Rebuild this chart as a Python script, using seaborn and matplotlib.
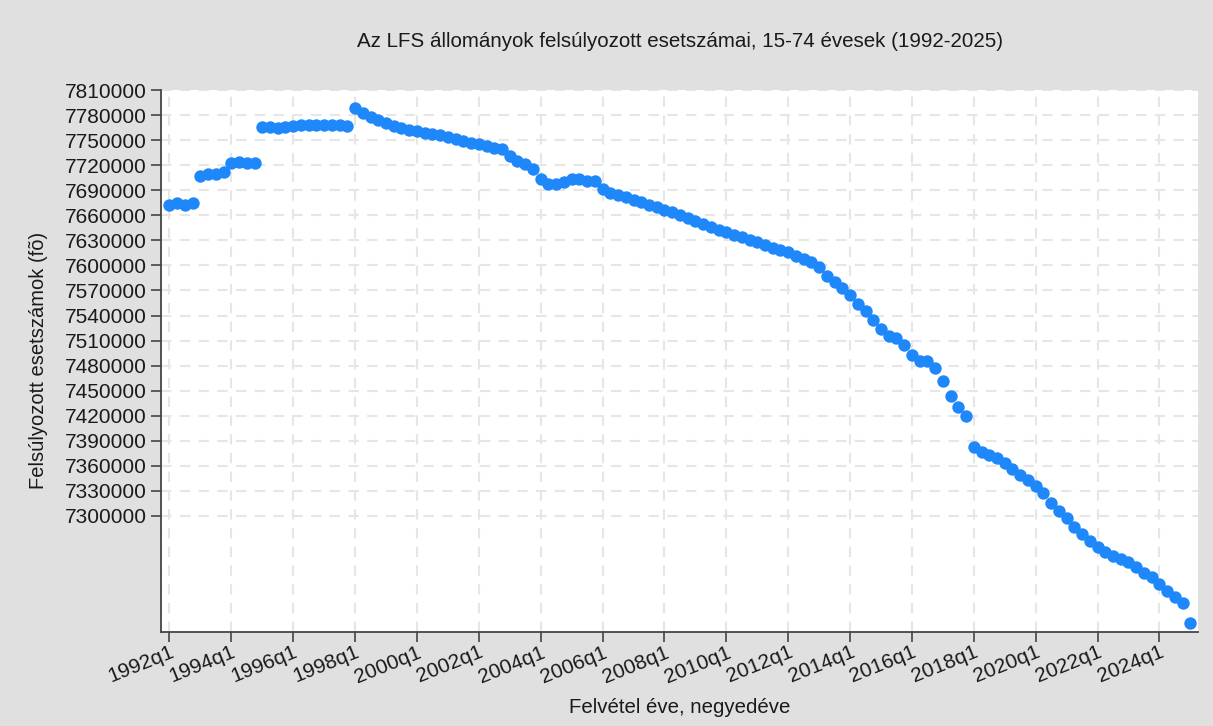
import numpy as np
import pandas as pd
import matplotlib
matplotlib.use("Agg")
import matplotlib.pyplot as plt
import seaborn as sns

# quarters 1992q1 .. 2025q1
years = list(range(1992, 2026))
quarter_labels = [f"{y}q{q}" for y in years for q in range(1, 5)][:133]

# weighted case counts (persons)
counts = [
    7672500, 7675000, 7672500, 7674500,
    7707000, 7709500, 7710000, 7711500,
    7722500, 7723500, 7722500, 7723000,
    7765500, 7765500, 7765000, 7766000, 7767500, 7768000, 7768000, 7768000,
    7768000, 7768000, 7768000, 7767500,
    7788000, 7782000, 7778000, 7774000, 7770500, 7767300, 7764000, 7762000,
    7760500, 7759000, 7757300, 7755800, 7753400, 7751000, 7749000, 7747000,
    7745000, 7743000, 7741000, 7739000,
    7730500, 7724500, 7721000, 7716000,
    7703000, 7697500, 7698000, 7699500, 7704000, 7703500, 7701500, 7701000,
    7691000, 7687000, 7684000, 7681500, 7678000, 7675500, 7672300, 7669500,
    7666300, 7663500, 7660300, 7656500,
    7653000, 7649300, 7645700, 7642500, 7639700, 7636400, 7633700, 7630800,
    7628000, 7624500, 7621000, 7618000, 7616000, 7611700, 7607300, 7603700,
    7597700, 7587700, 7579800, 7572500, 7564600, 7554000, 7545000,
    7534700, 7524000, 7516000, 7513500, 7505000, 7493000, 7485600, 7486000,
    7477000, 7462000, 7443700, 7431000, 7419800, 7383000, 7377000, 7373000,
    7369000,
    7363500, 7356300,
    7349000, 7343000, 7336000, 7328000, 7316000, 7306000, 7297300, 7287300,
    7278500, 7270500, 7262600, 7257300, 7252200, 7248200, 7245000, 7238600,
    7232200, 7226700, 7218700, 7210700, 7203500, 7196300, 7171600,
]

y_ticks = list(range(7300000, 7810001, 30000))
x_tick_labels = quarter_labels[::8]

df = pd.DataFrame({"idx": np.arange(len(counts)), "n": counts})

sns.set_style("white")
plt.rcParams['font.family'] = ['Liberation Sans', 'DejaVu Sans']

bg = "#e0e0e0"
fig = plt.figure(figsize=(12.13, 7.26), dpi=100, facecolor=bg)
ax = fig.add_axes([0.1327, 0.130, 0.855, 0.746])
ax.set_facecolor("white")

sns.scatterplot(data=df, x="idx", y="n", ax=ax, color="#1e88fb", s=80,
                linewidth=0, zorder=3, legend=False)

ax.set_xlim(-1.1, 133.0)
ax.set_ylim(7161500, 7810000)
ax.set_yticks(y_ticks)
ax.set_yticklabels([str(v) for v in y_ticks])
ax.set_xticks(np.arange(0, len(counts), 8))
ax.set_xticklabels(x_tick_labels, rotation=22, ha="right", rotation_mode="anchor")

ax.grid(True, color="#e6e6e6", linestyle=(0, (5, 4)), linewidth=1.5, zorder=0)
ax.set_axisbelow(True)

for s in ["top", "right"]:
    ax.spines[s].set_visible(False)
for s in ["left", "bottom"]:
    ax.spines[s].set_color("#444444")
    ax.spines[s].set_linewidth(1.3)

ax.tick_params(axis="both", which="major", direction="out", length=7, width=1.2,
               color="#444444", labelsize=15, labelcolor="#1a1a1a",
               left=True, bottom=True)
ax.tick_params(axis="y", pad=3)
ax.tick_params(axis="x", pad=1)

ax.set_title("Az LFS állományok felsúlyozott esetszámai, 15-74 évesek (1992-2025)",
             fontsize=14.8, color="#1a1a1a", pad=31)
ax.set_xlabel("Felvétel éve, negyedéve", fontsize=14.7, color="#1a1a1a", labelpad=8)
ax.set_ylabel("Felsúlyozott esetszámok (fõ)", fontsize=14.5, color="#1a1a1a", labelpad=12)

fig.savefig("out.png", dpi=100, facecolor=bg)
